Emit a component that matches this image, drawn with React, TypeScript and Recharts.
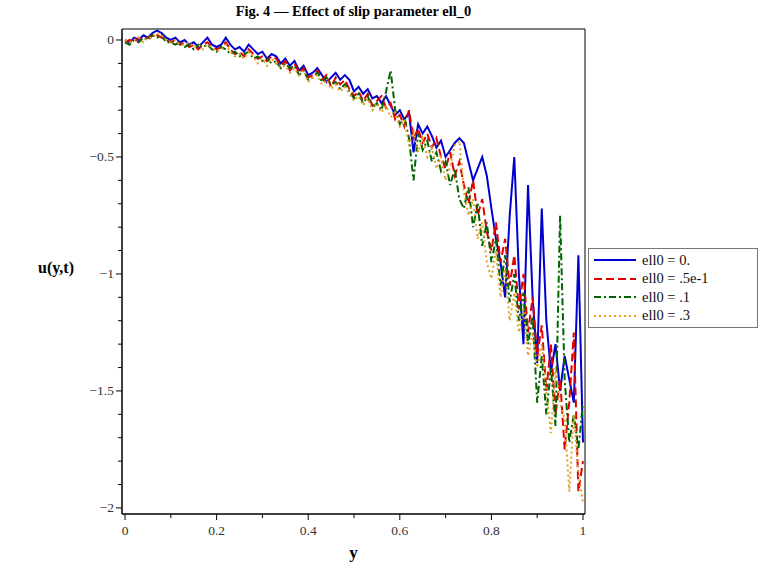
import React from "react"
import { LineChart, Line, XAxis, YAxis, ReferenceArea } from "recharts"

const yValues = [
  0, 0.01, 0.02, 0.03, 0.04, 0.05, 0.06, 0.07, 0.08, 0.09,
  0.1, 0.11, 0.12, 0.13, 0.14, 0.15, 0.16, 0.17, 0.18, 0.19,
  0.2, 0.21, 0.22, 0.23, 0.24, 0.25, 0.26, 0.27, 0.28, 0.29,
  0.3, 0.31, 0.32, 0.33, 0.34, 0.35, 0.36, 0.37, 0.38, 0.39,
  0.4, 0.41, 0.42, 0.43, 0.44, 0.45, 0.46, 0.47, 0.48, 0.49,
  0.5, 0.51, 0.52, 0.53, 0.54, 0.55, 0.56, 0.57, 0.58, 0.59,
  0.6, 0.61, 0.62, 0.63, 0.64, 0.65, 0.66, 0.67, 0.68, 0.69,
  0.7, 0.71, 0.72, 0.73, 0.74, 0.75, 0.76, 0.77, 0.78, 0.79,
  0.8, 0.81, 0.82, 0.83, 0.84, 0.85, 0.86, 0.87, 0.88, 0.89,
  0.9, 0.91, 0.92, 0.93, 0.94, 0.95, 0.96, 0.97, 0.98, 0.99,
  1,
]

// ell0 = 0.
const uEll0 = [
  0, -0.01, 0.01, 0, 0.02, 0.01, 0.03, 0.04, 0.03, 0.01,
  0, 0.01, -0.01, 0, -0.02, -0.01, -0.03, -0.01, 0.01, -0.02,
  -0.03, -0.02, 0.01, -0.02, -0.04, -0.03, -0.05, -0.02, -0.04, -0.06,
  -0.05, -0.08, -0.06, -0.07, -0.1, -0.08, -0.11, -0.09, -0.13, -0.11,
  -0.15, -0.14, -0.12, -0.15, -0.18, -0.16, -0.14, -0.17, -0.15, -0.17,
  -0.22, -0.2, -0.23, -0.21, -0.25, -0.24, -0.27, -0.24, -0.28, -0.32,
  -0.3, -0.34, -0.31, -0.48, -0.36, -0.4, -0.37, -0.41, -0.46, -0.43,
  -0.5, -0.47, -0.44, -0.42, -0.44, -0.52, -0.6, -0.55, -0.5, -0.58,
  -0.72, -0.85, -0.95, -1.1, -0.75, -0.5, -1.0, -1.3, -0.62, -1.1,
  -1.38, -0.72, -1.2, -1.42, -1.3, -1.5, -1.35, -1.45, -1.55, -0.92,
  -1.72,
]

// ell0 = .5e-1
const uEll005 = [
  -0.01, 0, -0.01, 0.01, 0, 0.01, 0.02, 0.02, 0.01, 0,
  -0.01, 0, -0.02, -0.01, -0.03, -0.02, -0.04, -0.02, -0.01, -0.03,
  -0.04, -0.03, -0.01, -0.04, -0.06, -0.05, -0.07, -0.04, -0.06, -0.08,
  -0.07, -0.09, -0.07, -0.08, -0.11, -0.09, -0.13, -0.1, -0.14, -0.12,
  -0.16, -0.15, -0.13, -0.17, -0.15, -0.2, -0.16, -0.19, -0.17, -0.21,
  -0.24, -0.22, -0.26, -0.23, -0.28, -0.26, -0.24, -0.29, -0.27, -0.34,
  -0.32, -0.37, -0.3, -0.42, -0.38, -0.44, -0.4, -0.46, -0.42, -0.5,
  -0.55, -0.48, -0.58, -0.52, -0.62, -0.7, -0.6, -0.75, -0.68, -0.82,
  -0.9, -0.78, -0.95, -0.85, -1.05, -0.92, -1.15, -1.0, -1.25, -1.1,
  -1.35, -1.22, -1.5, -1.3, -1.6, -1.45, -1.75, -1.55, -1.25, -1.93,
  -1.8,
]

// ell0 = .1
const uEll01 = [
  -0.01, -0.02, 0, -0.01, 0.01, 0, 0.02, 0.01, 0.02, -0.01,
  -0.01, -0.02, -0.01, -0.03, -0.02, -0.04, -0.02, -0.03, -0.02, -0.04,
  -0.05, -0.03, -0.04, -0.06, -0.05, -0.07, -0.06, -0.05, -0.08, -0.07,
  -0.09, -0.08, -0.1, -0.09, -0.12, -0.1, -0.12, -0.11, -0.15, -0.13,
  -0.17, -0.16, -0.14, -0.18, -0.16, -0.19, -0.18, -0.21, -0.19, -0.22,
  -0.25, -0.23, -0.27, -0.24, -0.29, -0.27, -0.3, -0.22, -0.13, -0.3,
  -0.36, -0.33, -0.42, -0.6, -0.4, -0.47, -0.43, -0.52, -0.48, -0.56,
  -0.52, -0.62, -0.55, -0.68, -0.72, -0.63, -0.8, -0.7, -0.88, -0.78,
  -0.95, -0.85, -1.05, -0.92, -1.12, -1.0, -1.2, -1.08, -1.3, -1.18,
  -1.55, -1.35, -1.6, -1.4, -1.65, -0.75, -1.45, -1.72, -1.6, -1.75,
  -1.55,
]

// ell0 = .3
const uEll03 = [
  0, -0.01, 0, 0.01, -0.01, 0.01, 0.01, 0.03, 0.02, 0,
  -0.01, 0, -0.02, -0.02, -0.01, -0.03, -0.02, -0.04, -0.02, -0.03,
  -0.05, -0.04, -0.02, -0.05, -0.07, -0.06, -0.08, -0.05, -0.07, -0.1,
  -0.08, -0.11, -0.08, -0.1, -0.12, -0.11, -0.14, -0.12, -0.15, -0.13,
  -0.18, -0.16, -0.15, -0.19, -0.17, -0.21, -0.19, -0.22, -0.2, -0.23,
  -0.26, -0.24, -0.28, -0.25, -0.3, -0.27, -0.31, -0.28, -0.33, -0.31,
  -0.37, -0.34, -0.45, -0.39, -0.48, -0.42, -0.5, -0.46, -0.55, -0.5,
  -0.6, -0.54, -0.45, -0.43, -0.65, -0.75, -0.68, -0.85, -0.78, -0.95,
  -1.02, -0.9, -1.1, -0.98, -1.2, -1.08, -1.25, -1.15, -1.35, -1.25,
  -1.4, -1.3, -1.5, -1.68, -1.4, -1.55, -1.62, -1.93, -1.6, -1.85,
  -1.98,
]

const series = [
  { key: "s0", name: "ell0 = 0.", values: uEll0, color: "#0000d0", dash: undefined },
  { key: "s1", name: "ell0 = .5e-1", values: uEll005, color: "#e00000", dash: "8 4" },
  { key: "s2", name: "ell0 = .1", values: uEll01, color: "#006400", dash: "7 3 2 3" },
  { key: "s3", name: "ell0 = .3", values: uEll03, color: "#e0a020", dash: "2 3" },
]

const xTicks = [0, 0.1, 0.2, 0.3, 0.4, 0.5, 0.6, 0.7, 0.8, 0.9, 1]
const xLabels = ["0", "", "0.2", "", "0.4", "", "0.6", "", "0.8", "", "1"]
const yTicks = [
  0, -0.1, -0.2, -0.3, -0.4, -0.5, -0.6, -0.7, -0.8, -0.9,
  -1, -1.1, -1.2, -1.3, -1.4, -1.5, -1.6, -1.7, -1.8, -1.9, -2,
]
const yLabels: Record<string, string> = {
  "0": "0",
  "-0.5": "\u22120.5",
  "-1": "\u22121",
  "-1.5": "\u22121.5",
  "-2": "\u22122",
}

const X_MIN = -0.0066
const X_MAX = 1.0044
const Y_MIN = -2.026
const Y_MAX = 0.047

const data = yValues.map((x, i) => {
  const row: Record<string, number> = { x }
  series.forEach((s) => (row[s.key] = s.values[i]))
  return row
})

const serif = "'Liberation Serif', 'Times New Roman', serif"

function XTick({ x, y, payload }: any) {
  const idx = xTicks.findIndex((t) => Math.abs(t - payload.value) < 1e-6)
  const label = idx >= 0 ? xLabels[idx] : ""
  return (
    <g>
      <line x1={x} y1={y} x2={x} y2={y + (label ? 6 : 4)} stroke="#000" />
      {label && (
        <text x={x} y={y + 21} textAnchor="middle" fontFamily={serif} fontSize={13.5} fill="#333">
          {label}
        </text>
      )}
    </g>
  )
}

function YTick({ x, y, payload }: any) {
  const label = yLabels[String(Math.round(payload.value * 10) / 10)]
  return (
    <g>
      <line x1={x} y1={y} x2={x - (label ? 6 : 4)} y2={y} stroke="#000" />
      {label && (
        <text x={x - 8} y={y + 4.5} textAnchor="end" fontFamily={serif} fontSize={13.5} fill="#333">
          {label}
        </text>
      )}
    </g>
  )
}

function LegendBox() {
  return (
    <div
      style={{
        position: "absolute",
        left: 588,
        top: 248,
        width: 160,
        border: "1px solid #777",
        background: "#fff",
        padding: "2px 4px",
        fontFamily: serif,
        fontSize: 14.5,
        color: "#111",
      }}
    >
      {series.map((s) => (
        <div key={s.key} style={{ display: "flex", alignItems: "center", height: 18.5 }}>
          <svg width={44} height={10} style={{ marginRight: 5 }}>
            <line x1={1} y1={5} x2={43} y2={5} stroke={s.color} strokeWidth={2} strokeDasharray={s.dash} />
          </svg>
          <span>{s.name}</span>
        </div>
      ))}
    </div>
  )
}

export default function App() {
  return (
    <div style={{ position: "relative", width: 760, height: 575, background: "#fff", fontFamily: serif }}>
      <style>{`body{margin:0;background:#fff}`}</style>
      <div
        style={{
          position: "absolute",
          left: 122,
          width: 463,
          top: 3,
          textAlign: "center",
          fontWeight: "bold",
          fontSize: 14.5,
          color: "#000",
        }}
      >
        Fig. 4 — Effect of slip parameter ell_0
      </div>
      <div style={{ position: "absolute", left: 38, top: 259, fontWeight: "bold", fontSize: 16, color: "#000" }}>
        u(y,t)
      </div>
      <div
        style={{
          position: "absolute",
          left: 122,
          width: 463,
          top: 543,
          textAlign: "center",
          fontWeight: "bold",
          fontSize: 17,
          color: "#000",
        }}
      >
        y
      </div>
      <LineChart
        width={760}
        height={575}
        data={data}
        margin={{ top: 29, right: 175, bottom: 0, left: 0 }}
        style={{ position: "absolute", left: 0, top: 0 }}
      >
        <XAxis
          dataKey="x"
          type="number"
          domain={[X_MIN, X_MAX]}
          allowDataOverflow
          ticks={xTicks}
          interval={0}
          tick={<XTick />}
          tickSize={0}
          tickMargin={0}
          height={61}
          axisLine={{ stroke: "#000" }}
        />
        <YAxis
          type="number"
          domain={[Y_MIN, Y_MAX]}
          allowDataOverflow
          ticks={yTicks}
          interval={0}
          tick={<YTick />}
          tickSize={0}
          tickMargin={0}
          width={122}
          axisLine={{ stroke: "#000" }}
        />
        <ReferenceArea x1={X_MIN} x2={X_MAX} y1={Y_MIN} y2={Y_MAX} fill="none" stroke="#000" strokeOpacity={1} />
        {series.map((s) => (
          <Line
            key={s.key}
            dataKey={s.key}
            name={s.name}
            type="linear"
            stroke={s.color}
            strokeWidth={2}
            strokeDasharray={s.dash}
            dot={false}
            isAnimationActive={false}
          />
        ))}
      </LineChart>
      <LegendBox />
    </div>
  )
}
